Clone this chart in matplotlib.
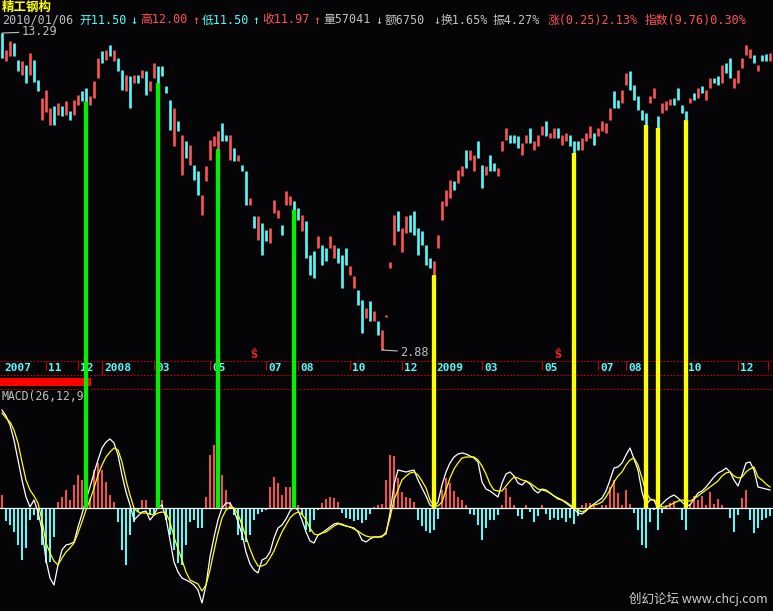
import matplotlib
matplotlib.use("Agg")
import matplotlib.pyplot as plt
import matplotlib.transforms as mtransforms
from matplotlib.patches import ConnectionPatch, Rectangle
import numpy as np

W, H = 773, 611
BG = "#050508"
RED = "#ff5454"
CYAN = "#54fcfc"
GRAY = "#c0c0c0"
YELLOW = "#ffff00"
GREEN = "#00f000"
MONO = ["DejaVu Sans Mono", "Noto Sans CJK SC"]

# daily candles (sampled), high / low prices and r = up day, c = down day
hi = [13.29, 12.73, 13.03, 12.96, 12.40, 12.37, 12.24, 12.63, 12.40, 11.75,
      11.16, 11.42, 10.83, 10.89, 10.99, 10.89, 11.06, 10.73, 11.09, 11.25,
      11.39, 11.48, 11.22, 11.71, 12.47, 12.70, 12.73, 12.90, 12.73, 12.47,
      12.07, 11.91, 11.88, 11.91, 11.91, 12.07, 12.04, 11.71, 12.30, 12.20,
      12.20, 11.55, 11.09, 10.83, 10.40, 9.94, 9.74, 9.61, 8.96, 8.76,
      7.97, 8.92, 9.78, 9.91, 10.07, 10.33, 9.94, 9.94, 9.51, 9.28,
      8.96, 8.76, 7.87, 7.28, 7.28, 7.05, 6.82, 6.89, 7.81, 7.48,
      6.99, 8.10, 7.94, 7.77, 7.54, 7.31, 7.12, 6.00, 6.13, 6.62,
      6.33, 6.23, 6.62, 6.33, 6.23, 6.00, 6.23, 5.64, 5.31, 4.85,
      4.52, 4.26, 4.49, 4.16, 3.83, 3.54, 4.03, 5.77, 7.31, 7.44,
      6.89, 7.28, 7.31, 7.44, 6.89, 6.79, 6.33, 5.90, 5.80, 6.66,
      7.77, 8.13, 8.46, 8.43, 8.79, 8.92, 9.45, 9.45, 9.28, 9.74,
      8.96, 8.92, 9.28, 9.02, 8.86, 9.74, 10.17, 9.94, 9.94, 9.91,
      9.68, 9.94, 10.17, 9.74, 9.94, 10.24, 10.40, 10.00, 10.17, 10.17,
      9.94, 10.00, 9.94, 9.74, 9.74, 9.84, 10.00, 10.24, 10.00, 10.17,
      10.40, 10.33, 10.83, 11.39, 11.09, 11.42, 11.98, 12.04, 11.58, 11.22,
      10.76, 10.66, 11.22, 11.48, 10.56, 10.99, 11.06, 11.12, 11.16, 11.48,
      10.93, 10.73, 11.16, 11.32, 11.48, 11.55, 11.42, 11.81, 11.81, 11.88,
      12.24, 12.30, 12.47, 11.81, 12.07, 12.47, 12.90, 12.76, 12.57, 12.24,
      12.57, 12.60, 12.63]
lo = [12.48, 12.37, 12.53, 12.53, 12.04, 11.91, 11.65, 11.91, 11.68, 11.39,
      10.43, 10.70, 10.27, 10.27, 10.60, 10.56, 10.60, 10.43, 10.60, 10.93,
      11.06, 11.03, 10.93, 11.16, 11.81, 12.30, 12.40, 12.53, 12.37, 12.04,
      11.42, 11.39, 10.83, 11.65, 11.65, 11.81, 11.25, 11.39, 11.81, 11.65,
      11.88, 11.32, 10.10, 9.58, 10.07, 8.63, 9.19, 8.96, 8.46, 7.97,
      7.31, 8.43, 9.12, 9.58, 9.48, 9.74, 9.74, 9.12, 9.09, 9.09,
      8.76, 7.64, 7.64, 6.89, 6.49, 6.00, 6.46, 6.39, 7.38, 7.22,
      6.66, 7.64, 7.64, 7.48, 7.15, 6.79, 5.90, 5.34, 5.25, 6.23,
      5.67, 5.80, 6.23, 5.90, 5.74, 4.92, 5.67, 5.34, 4.92, 4.36,
      3.44, 3.93, 3.83, 3.83, 3.37, 2.88, 3.97, 5.57, 6.33, 6.79,
      6.10, 6.72, 6.76, 6.66, 6.00, 6.33, 5.67, 5.57, 5.34, 6.23,
      7.15, 7.61, 7.87, 8.13, 8.36, 8.59, 8.86, 9.12, 8.76, 9.19,
      8.20, 8.63, 8.76, 8.76, 8.59, 9.41, 9.78, 9.68, 9.68, 9.51,
      9.28, 9.68, 9.68, 9.45, 9.58, 9.94, 9.91, 9.84, 9.84, 9.84,
      9.61, 9.74, 9.58, 9.35, 9.45, 9.45, 9.74, 9.84, 9.61, 9.91,
      10.07, 10.00, 10.43, 10.83, 10.83, 10.99, 11.58, 11.42, 11.09, 10.76,
      10.43, 10.27, 10.99, 11.16, 10.17, 10.66, 10.76, 10.93, 10.93, 11.09,
      10.66, 10.43, 10.99, 11.09, 11.16, 11.32, 11.09, 11.48, 11.65, 11.58,
      11.65, 11.98, 11.81, 11.48, 11.65, 12.14, 12.57, 12.47, 12.30, 12.04,
      12.37, 12.37, 12.37]
up = ("crrccrcrcc" "rrrcrcrcrr" "ccrrrcrcrc" "crcrcrcrrc" "cccrcrcrcc"
      "rrrrrccrcr" "ccrcrccrrr" "crrccrcccr" "ccrrcccrrc" "crcrcrrrrc"
      "rrccccccrr" "rrrcrrcrrc" "crccrrrccc" "rrcrrrcrrc" "rrcccrrrcr"
      "rrrccrrccc" "ccrrcrrrcc" "ccrcrcrrcc" "rccrrrrrcr" "ccr")

# MACD(26,12,9) in hundredths: DIF (white), DEA (yellow), MACD bars
dif = [98, 92, 83, 68, 48, 28, 11, 1, 8, -4,
       -22, -52, -70, -77, -57, -42, -37, -36, -34, -19,
       -6, 8, 21, 35, 48, 60, 66, 69, 65, 53,
       33, 16, 3, -12, -8, -4, -3, -12, -7, 1,
       3, -10, -32, -54, -64, -70, -72, -74, -77, -82,
       -95, -77, -49, -29, -12, 0, 5, 5, -2, -14,
       -26, -44, -56, -62, -65, -52, -50, -44, -30, -20,
       -17, -11, -3, 1, -2, -12, -24, -33, -35, -27,
       -25, -22, -19, -16, -15, -17, -18, -19, -20, -24,
       -32, -34, -31, -29, -29, -28, -26, -5, 23, 38,
       37, 36, 37, 38, 28, 20, 12, 3, 1, 6,
       23, 36, 45, 51, 54, 55, 54, 52, 50, 46,
       26, 19, 17, 14, 11, 25, 34, 36, 32, 25,
       23, 27, 24, 18, 15, 19, 18, 15, 12, 10,
       8, 5, 2, -1, -5, -6, -3, 1, 4, 7,
       10, 17, 28, 40, 41, 45, 53, 60, 49, 38,
       16, 3, 8, 8, -1, 4, 8, 11, 13, 10,
       6, 2, 3, 9, 15, 17, 21, 26, 31, 35,
       37, 40, 36, 28, 22, 33, 45, 46, 38, 21,
       20, 19, 18]
dea = [95, 90, 86, 78, 65, 46, 28, 18, 12, 5,
       -12, -35, -45, -53, -57, -50, -44, -40, -35, -25,
       -14, -2, 8, 20, 33, 43, 51, 56, 60, 58,
       46, 28, 13, 0, -4, -5, -5, -6, -7, -5,
       -4, -5, -14, -29, -41, -52, -64, -72, -74, -76,
       -83, -77, -62, -43, -25, -10, -2, 1, 0, -6,
       -17, -29, -41, -51, -58, -58, -56, -50, -43, -33,
       -24, -17, -10, -6, -4, -6, -12, -20, -26, -27,
       -25, -24, -21, -18, -16, -16, -18, -19, -21, -23,
       -26, -28, -29, -29, -29, -29, -24, -10, 8, 18,
       28, 32, 35, 36, 33, 27, 20, 8, 2, 2,
       6, 18, 30, 39, 45, 50, 51, 51, 51, 48,
       42, 34, 24, 18, 17, 17, 22, 27, 31, 30,
       28, 27, 25, 22, 19, 18, 17, 15, 12, 9,
       8, 6, 3, 1, -2, -4, -2, 1, 3, 4,
       6, 11, 18, 26, 32, 36, 43, 48, 50, 43,
       30, 16, 9, 8, 5, 1, 1, 3, 5, 7,
       8, 7, 7, 9, 12, 15, 18, 21, 24, 27,
       32, 35, 36, 32, 30, 31, 36, 39, 41, 31,
       28, 24, 21]
macd = [13, -13, -17, -24, -37, -52, -40, -12, -7, -12,
        -37, -55, -54, -29, 6, 11, 18, 8, 23, 33,
        28, 18, 10, 38, 45, 38, 26, 13, 6, -14,
        -42, -57, -27, -14, -4, 8, 8, -7, -6, 13,
        8, -12, -27, -42, -55, -57, -37, -14, -12, -20,
        -20, 11, 53, 63, 43, 33, 18, 6, -7, -27,
        -32, -34, -27, -12, -6, -4, -2, 21, 31, 25,
        13, 21, 21, 11, 3, -7, -22, -24, -12, -2,
        5, 9, 11, 10, 6, -5, -10, -11, -13, -12,
        -15, -12, -6, 1, 3, 4, 28, 53, 52, 30,
        16, 11, 10, 6, -12, -18, -23, -25, -22, -11,
        18, 30, 25, 17, 11, 8, 3, -6, -7, -17,
        -32, -20, -12, -12, -7, 3, 20, 11, 3, -8,
        -11, 3, -4, -14, -8, 3, -6, -12, -10, -12,
        -10, -14, -10, -16, -8, 3, 5, 5, 2, -1,
        3, 3, 21, 28, 15, 3, 18, 4, -5, -22,
        -37, -40, -14, -2, -22, -5, 3, 5, 7, 0,
        -12, -22, 4, 12, 8, 12, 3, 16, 4, 9,
        3, -1, -10, -24, -7, 10, 18, -12, -25, -20,
        -12, -10, -8]

# signal days (candle index)
green_days = [21, 39, 54, 73]
yellow_days = [108, 143, 161, 164, 171]
s_days = [63, 139]

# month boundaries on the date bar (candle index, label)
month_days = [0, 11, 19, 25, 38, 52, 66, 74, 87, 100, 108, 120, 135, 149, 156, 171, 184, 191.5]
month_labels = ["2007", "11", "12", "2008", "03", "05", "07", "08", "10", "12",
                "2009", "03", "05", "07", "08", "10", "12", ""]

n = len(hi)
days = np.arange(n)
hi = np.array(hi)
lo = np.array(lo)
is_up = np.array([c == "r" for c in up])
macd = np.array(macd)


def fx(x):
    return x / W


def fy(y):
    return 1 - y / H


fig = plt.figure(figsize=(W / 100, H / 100), dpi=100, facecolor=BG)
xlim = (-0.5, 192.75)

# price panel
ax_p = fig.add_axes([0, fy(358), 1, (358 - 30) / H])
ax_d = fig.add_axes([0, fy(392), 1, (392 - 358) / H])
ax_m = fig.add_axes([0, 0, 1, (611 - 392) / H])
for ax in (ax_p, ax_d, ax_m):
    ax.set_facecolor(BG)
    ax.set_xlim(*xlim)
    ax.set_xticks([])
    ax.set_yticks([])
    for s in ax.spines.values():
        s.set_visible(False)

ax_p.set_ylim(2.617, 13.39)
ax_p.vlines(days[is_up], lo[is_up], hi[is_up], color=RED, lw=1.9)
ax_p.vlines(days[~is_up], lo[~is_up], hi[~is_up], color=CYAN, lw=1.9)

imax = int(np.argmax(hi))
imin = int(np.argmin(lo))
ax_p.annotate(f"{hi[imax]:.2f}", xy=(imax, hi[imax]), xytext=(14, 1), textcoords="offset points",
              color=GRAY, fontsize=8.5, family=MONO, va="center", ha="left",
              arrowprops=dict(arrowstyle="-", color=GRAY, lw=0.8, shrinkA=0, shrinkB=0))
ax_p.annotate(f"{lo[imin]:.2f}", xy=(imin, lo[imin]), xytext=(13, -1.5), textcoords="offset points",
              color=GRAY, fontsize=8.5, family=MONO, va="center", ha="left",
              arrowprops=dict(arrowstyle="-", color=GRAY, lw=0.8, shrinkA=0, shrinkB=0))

tr = mtransforms.blended_transform_factory(ax_p.transData, fig.transFigure)
for d in s_days:
    ax_p.text(d, fy(355), "Ŝ", transform=tr, color="#ff2020", fontsize=7, fontweight="bold",
              ha="center", va="center", clip_on=False)

# date bar
ax_d.set_ylim(392, 358)
for yy in (361, 375, 389):
    ax_d.axhline(yy, color="#c80000", lw=0.8, ls=(0, (1.5, 1.5)))
for d, lab in zip(month_days, month_labels):
    if d > 0:
        bottom = 375 if len(lab) == 4 else 370
        ax_d.vlines(d, 361, bottom, color="#c80000", lw=0.8)
    ax_d.annotate(lab, xy=(d, 368), xytext=(1.5, 0), textcoords="offset points",
                  color=CYAN, fontsize=8, family="DejaVu Sans Mono", fontweight="bold",
                  ha="left", va="center")
fig.add_artist(Rectangle((fx(0), fy(386)), fx(91), 8 / H, transform=fig.transFigure,
                         color="#ff0000", lw=0))
fig.text(fx(2), fy(397), "MACD(26,12,9)", color=GRAY, fontsize=8.3, family=MONO, va="center")

# MACD panel
ax_m.set_ylim(-103, 116)
ax_m.bar(days, macd, width=0.6, color=np.where(macd >= 0, "#f05050", CYAN), lw=0)
ax_m.axhline(0, color="white", lw=0.9)
ax_m.plot(days, dif, color="white", lw=0.9)
ax_m.plot(days, dea, color=YELLOW, lw=0.9)

# signal lines from the candle low down to the MACD zero line
for days_list, col in ((green_days, GREEN), (yellow_days, YELLOW)):
    for d in days_list:
        con = ConnectionPatch(xyA=(d, lo[d]), coordsA=ax_p.transData,
                              xyB=(d, 0), coordsB=ax_m.transData,
                              color=col, lw=3.1, capstyle="butt", zorder=5)
        fig.add_artist(con)

# header
fig.text(fx(2), fy(7), "精工钢构", color=YELLOW, fontsize=9, fontweight="bold",
         family=["Noto Sans CJK SC"], va="center")
header = [
    (2, "2010/01/06", GRAY), (79, "开11.50", CYAN), (130, "↓", CYAN),
    (140, "高12.00", RED), (192, "↑", RED), (202, "低11.50", CYAN), (252, "↑", CYAN),
    (262, "收11.97", RED), (313, "↑", RED), (323, "量57041", GRAY), (375, "↓", GRAY),
    (385, "额6750", GRAY), (433, "↓", GRAY), (441, "换1.65%", GRAY), (493, "振4.27%", GRAY),
    (548, "涨(0.25)2.13%", RED), (645, "指数(9.76)0.30%", RED),
]
for x, s, c in header:
    fig.text(fx(x), fy(20), s, color=c, fontsize=8.5, family=MONO, va="center", ha="left")

fig.text(fx(768), fy(599), "创幻论坛 www.chcj.com", color="#d0d0d0", fontsize=9,
         family=["Noto Sans CJK SC", "DejaVu Sans"], ha="right", va="center")

fig.savefig("out.png", dpi=100, facecolor=BG)
